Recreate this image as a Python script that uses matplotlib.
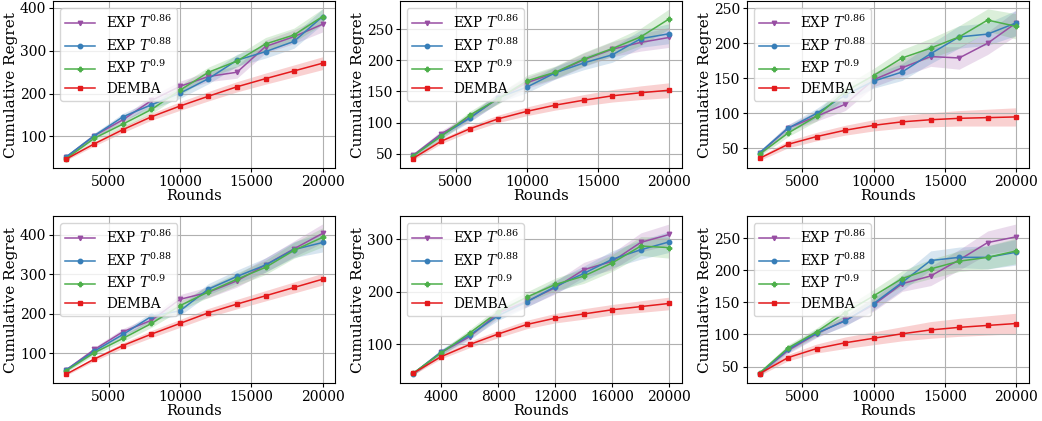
import numpy as np
import matplotlib
matplotlib.use('Agg')
import matplotlib.pyplot as plt

plt.rcParams['font.family'] = 'DejaVu Serif'
plt.rcParams['mathtext.fontset'] = 'dejavuserif'

rounds = [2000, 4000, 6000, 8000, 10000, 12000, 14000, 16000, 18000, 20000]
labels = ['EXP $T^{0.86}$', 'EXP $T^{0.88}$', 'EXP $T^{0.9}$', 'DEMBA']
colors = ['#984ea3', '#377eb8', '#4daf4a', '#e41a1c']
markers = ['v', 'o', 'P', 's']

## panel 1
p1_086 = [51, 102, 139, 184, 217, 240, 250, 310, 333, 362]
p1_088 = [52, 102, 146, 174, 201, 235, 278, 298, 322, 380]
p1_09 = [48, 96, 129, 163, 208, 250, 276, 316, 337, 380]
p1_demba = [47, 83, 116, 146, 171, 194, 216, 235, 253, 271]
p1_exp_band = [4, 6, 8, 10, 12, 12, 14, 15, 16, 18]
p1_demba_band = [3, 5, 7, 8, 10, 11, 12, 13, 14, 15]

## panel 2
p2_086 = [47, 82, 108, 139, 164, 180, 201, 218, 229, 237]
p2_088 = [46, 79, 107, 140, 157, 180, 196, 209, 235, 243]
p2_09 = [46, 78, 112, 138, 167, 181, 202, 219, 238, 267]
p2_demba = [42, 70, 90, 106, 118, 128, 136, 143, 148, 152]
p2_exp_band = [3, 5, 6, 8, 9, 10, 11, 12, 14, 16]
p2_demba_band = [3, 4, 5, 6, 7, 8, 9, 10, 11, 12]

## panel 3
p3_086 = [43, 79, 96, 113, 148, 165, 181, 179, 200, 229]
p3_088 = [44, 79, 100, 126, 146, 159, 185, 209, 213, 229]
p3_09 = [42, 72, 96, 131, 154, 179, 193, 209, 233, 224]
p3_demba = [36, 56, 67, 76, 83, 88, 91, 93, 94, 95]
p3_exp_band = [3, 5, 7, 9, 10, 12, 14, 16, 16, 18]
p3_demba_band = [3, 5, 6, 7, 8, 9, 10, 11, 12, 13]

## panel 4
p4_086 = [57, 109, 154, 183, 236, 254, 283, 323, 364, 403]
p4_088 = [57, 105, 147, 193, 207, 262, 294, 323, 362, 380]
p4_09 = [55, 101, 137, 175, 220, 255, 287, 317, 360, 393]
p4_demba = [46, 85, 119, 148, 175, 202, 224, 245, 266, 287]
p4_exp_band = [4, 6, 8, 10, 12, 14, 16, 18, 20, 24]
p4_demba_band = [3, 5, 7, 9, 10, 11, 12, 13, 14, 15]

## panel 5
p5_086 = [44, 85, 115, 160, 182, 208, 242, 258, 294, 309]
p5_088 = [44, 86, 118, 155, 181, 210, 235, 262, 280, 295]
p5_09 = [45, 84, 122, 162, 190, 214, 230, 255, 287, 284]
p5_demba = [45, 77, 100, 120, 138, 150, 158, 166, 172, 178]
p5_exp_band = [3, 5, 7, 9, 10, 12, 14, 16, 18, 20]
p5_demba_band = [3, 4, 6, 7, 8, 9, 10, 10, 11, 12]

## panel 6
p6_086 = [39, 75, 101, 122, 146, 179, 191, 216, 243, 252]
p6_088 = [39, 77, 102, 121, 148, 181, 215, 220, 220, 228]
p6_09 = [40, 79, 104, 134, 160, 187, 202, 214, 220, 230]
p6_demba = [39, 64, 78, 87, 94, 101, 107, 111, 114, 117]
p6_exp_band = [3, 5, 6, 8, 10, 12, 15, 16, 18, 20]
p6_demba_band = [3, 5, 7, 9, 10, 11, 13, 14, 15, 16]

panels = [
    (p1_086, p1_088, p1_09, p1_demba, p1_exp_band, p1_demba_band),
    (p2_086, p2_088, p2_09, p2_demba, p2_exp_band, p2_demba_band),
    (p3_086, p3_088, p3_09, p3_demba, p3_exp_band, p3_demba_band),
    (p4_086, p4_088, p4_09, p4_demba, p4_exp_band, p4_demba_band),
    (p5_086, p5_088, p5_09, p5_demba, p5_exp_band, p5_demba_band),
    (p6_086, p6_088, p6_09, p6_demba, p6_exp_band, p6_demba_band),
]

fig, axes = plt.subplots(2, 3, figsize=(10.42, 4.21), dpi=100)
fig.subplots_adjust(left=0.051, right=0.9875, top=0.997, bottom=0.09,
                    wspace=0.229, hspace=0.29)

x = np.array(rounds)
for k, (ax, pan) in enumerate(zip(axes.flat, panels)):
    series = pan[:4]
    bands = [pan[4], pan[4], pan[4], pan[5]]
    for s, b, lab, c, m in zip(series, bands, labels, colors, markers):
        y = np.array(s, dtype=float)
        b = np.array(b, dtype=float)
        ax.fill_between(x, y - b, y + b, color=c, alpha=0.2, linewidth=0)
        ax.plot(x, y, color=c, marker=m, markersize=3.2, linewidth=1.1, label=lab)
    ax.grid(True, color='#b0b0b0', linewidth=0.8)
    ax.set_xlabel('Rounds', fontsize=10.5, labelpad=0)
    ax.set_ylabel('Cumulative Regret', fontsize=11, labelpad=1)
    ax.tick_params(labelsize=10, length=3, pad=2)
    if k == 4:
        ax.set_xticks([4000, 8000, 12000, 16000, 20000])
    else:
        ax.set_xticks([5000, 10000, 15000, 20000])
    ax.legend(loc='upper left', fontsize=9.8, handlelength=2.2,
              borderpad=0.4, labelspacing=0.4, handletextpad=0.8)

fig.savefig('out.png', dpi=100)
